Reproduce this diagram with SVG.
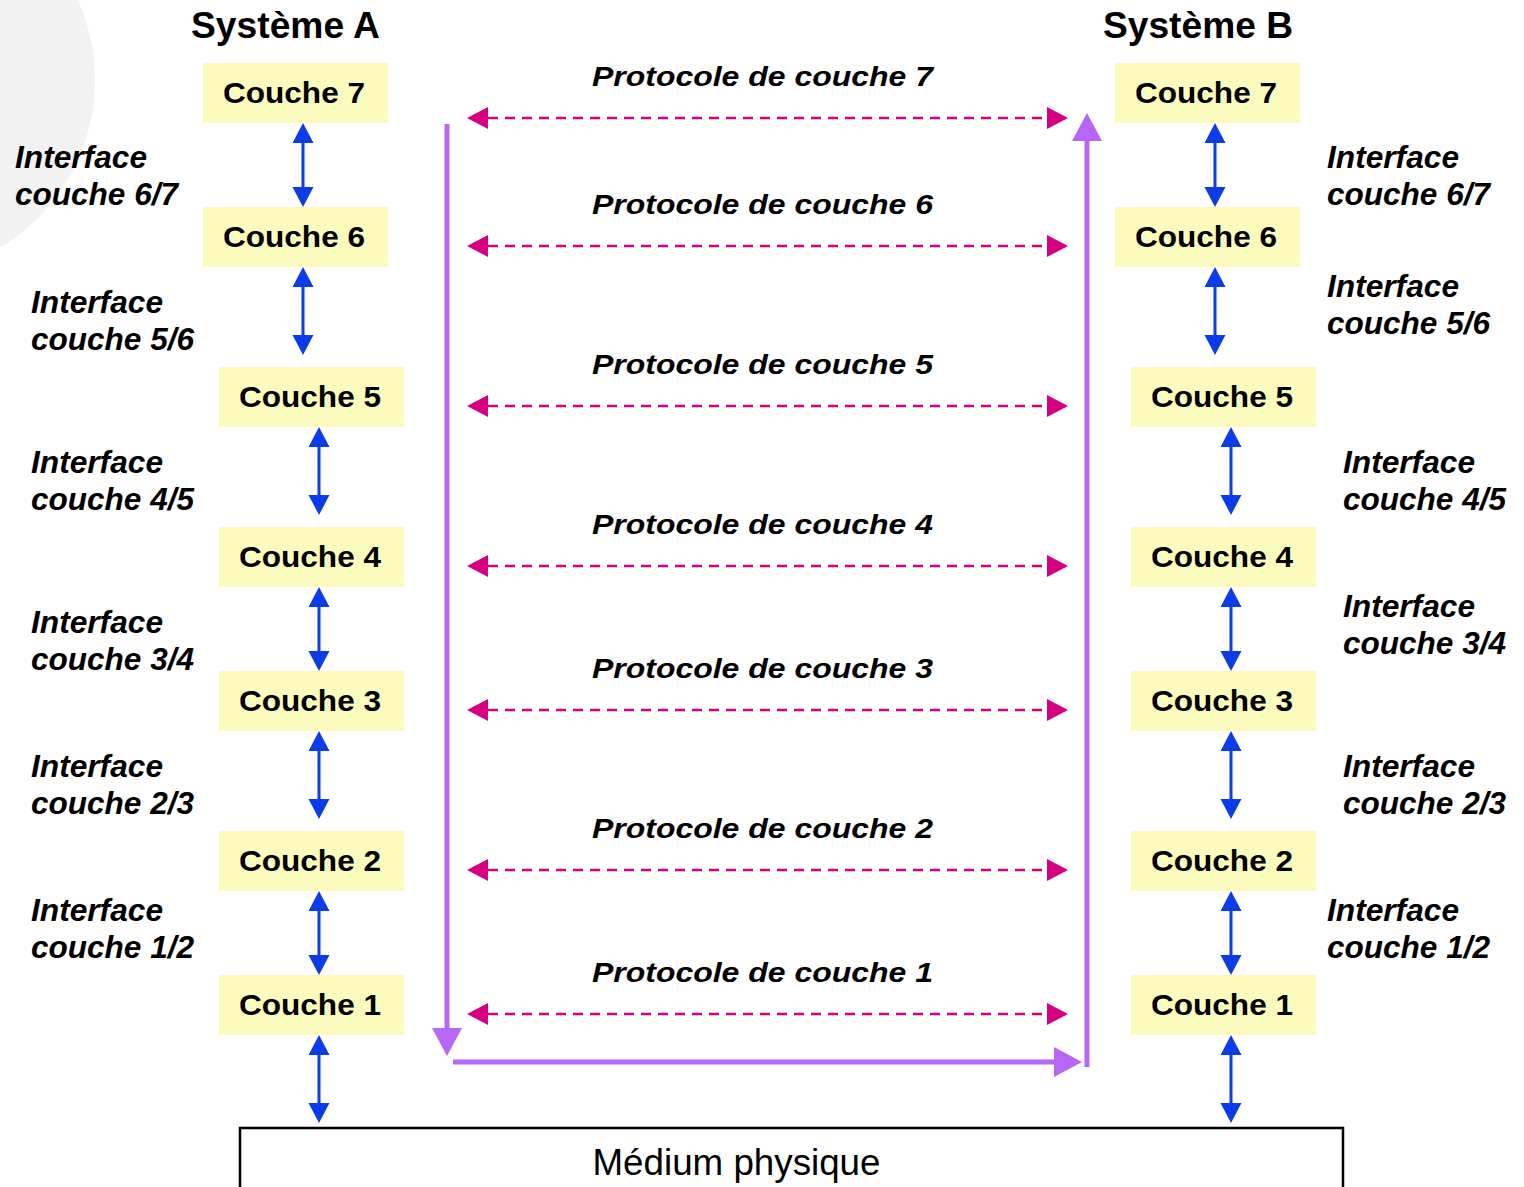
<svg xmlns="http://www.w3.org/2000/svg" width="1524" height="1187" viewBox="0 0 1524 1187">
<style>
.box{fill:#fbfbbd}
.lbl{font-family:"Liberation Sans",Arial,sans-serif;font-weight:bold;font-size:30px;fill:#000;text-anchor:middle}
.title{font-family:"Liberation Sans",Arial,sans-serif;font-weight:bold;font-size:36px;fill:#000;text-anchor:middle}
.itf{font-family:"Liberation Sans",Arial,sans-serif;font-weight:bold;font-style:italic;font-size:31px;fill:#000}
.proto{font-family:"Liberation Sans",Arial,sans-serif;font-weight:bold;font-style:italic;font-size:28px;fill:#000}
.blue{stroke:#0b3ce8;stroke-width:3;fill:none;marker-start:url(#hb);marker-end:url(#hb)}
.pink{stroke:#d6007e;stroke-width:2.5;fill:none;stroke-dasharray:10 7;marker-start:url(#hp);marker-end:url(#hp)}
.purple{stroke:#b866f5;stroke-width:5;fill:none}
</style>
<defs>
<marker id="hb" markerUnits="userSpaceOnUse" markerWidth="20" markerHeight="21" refX="0" refY="10.5" orient="auto-start-reverse" overflow="visible"><path d="M0,0 L20,10.5 L0,21 z" fill="#0b3ce8"/></marker>
<marker id="hp" markerUnits="userSpaceOnUse" markerWidth="21" markerHeight="22" refX="0" refY="11" orient="auto-start-reverse" overflow="visible"><path d="M0,0 L21,11 L0,22 z" fill="#d6007e"/></marker>
<marker id="hv" markerUnits="userSpaceOnUse" markerWidth="28" markerHeight="30" refX="0" refY="15" orient="auto" overflow="visible"><path d="M0,0 L28,15 L0,30 z" fill="#b866f5"/></marker>
</defs>
<rect width="1524" height="1187" fill="#fff"/>
<circle cx="-100" cy="80" r="195" fill="#f2f2f2"/>

<text class="title" x="285.5" y="38" textLength="189" lengthAdjust="spacingAndGlyphs">Système A</text>
<text class="title" x="1198" y="38" textLength="190" lengthAdjust="spacingAndGlyphs">Système B</text>

<g id="A7"><rect class="box" x="203" y="63" width="185" height="60"/><text class="lbl" x="294" y="103" textLength="142" lengthAdjust="spacingAndGlyphs">Couche 7</text></g>
<g id="A6"><rect class="box" x="203" y="207" width="185" height="60"/><text class="lbl" x="294" y="247" textLength="142" lengthAdjust="spacingAndGlyphs">Couche 6</text></g>
<g id="A5"><rect class="box" x="219" y="367" width="185" height="60"/><text class="lbl" x="310" y="407" textLength="142" lengthAdjust="spacingAndGlyphs">Couche 5</text></g>
<g id="A4"><rect class="box" x="219" y="527" width="185" height="60"/><text class="lbl" x="310" y="567" textLength="142" lengthAdjust="spacingAndGlyphs">Couche 4</text></g>
<g id="A3"><rect class="box" x="219" y="671" width="185" height="60"/><text class="lbl" x="310" y="711" textLength="142" lengthAdjust="spacingAndGlyphs">Couche 3</text></g>
<g id="A2"><rect class="box" x="219" y="831" width="185" height="60"/><text class="lbl" x="310" y="871" textLength="142" lengthAdjust="spacingAndGlyphs">Couche 2</text></g>
<g id="A1"><rect class="box" x="219" y="975" width="185" height="60"/><text class="lbl" x="310" y="1015" textLength="142" lengthAdjust="spacingAndGlyphs">Couche 1</text></g>

<g id="B7"><rect class="box" x="1115" y="63" width="185" height="60"/><text class="lbl" x="1206" y="103" textLength="142" lengthAdjust="spacingAndGlyphs">Couche 7</text></g>
<g id="B6"><rect class="box" x="1115" y="207" width="185" height="60"/><text class="lbl" x="1206" y="247" textLength="142" lengthAdjust="spacingAndGlyphs">Couche 6</text></g>
<g id="B5"><rect class="box" x="1131" y="367" width="185" height="60"/><text class="lbl" x="1222" y="407" textLength="142" lengthAdjust="spacingAndGlyphs">Couche 5</text></g>
<g id="B4"><rect class="box" x="1131" y="527" width="185" height="60"/><text class="lbl" x="1222" y="567" textLength="142" lengthAdjust="spacingAndGlyphs">Couche 4</text></g>
<g id="B3"><rect class="box" x="1131" y="671" width="185" height="60"/><text class="lbl" x="1222" y="711" textLength="142" lengthAdjust="spacingAndGlyphs">Couche 3</text></g>
<g id="B2"><rect class="box" x="1131" y="831" width="185" height="60"/><text class="lbl" x="1222" y="871" textLength="142" lengthAdjust="spacingAndGlyphs">Couche 2</text></g>
<g id="B1"><rect class="box" x="1131" y="975" width="185" height="60"/><text class="lbl" x="1222" y="1015" textLength="142" lengthAdjust="spacingAndGlyphs">Couche 1</text></g>

<g id="medium"><rect x="240" y="1128" width="1103" height="80" fill="#fff" stroke="#000" stroke-width="2.5"/><text x="736.5" y="1175" font-family="Liberation Sans, Arial, sans-serif" font-size="36" text-anchor="middle" textLength="288" lengthAdjust="spacingAndGlyphs">Médium physique</text></g>

<g id="interfaces">
<text class="itf" x="15" y="168" textLength="132" lengthAdjust="spacingAndGlyphs">Interface</text><text class="itf" x="15" y="205" textLength="163" lengthAdjust="spacingAndGlyphs">couche 6/7</text>
<text class="itf" x="31" y="313" textLength="132" lengthAdjust="spacingAndGlyphs">Interface</text><text class="itf" x="31" y="350" textLength="163" lengthAdjust="spacingAndGlyphs">couche 5/6</text>
<text class="itf" x="31" y="473" textLength="132" lengthAdjust="spacingAndGlyphs">Interface</text><text class="itf" x="31" y="510" textLength="163" lengthAdjust="spacingAndGlyphs">couche 4/5</text>
<text class="itf" x="31" y="633" textLength="132" lengthAdjust="spacingAndGlyphs">Interface</text><text class="itf" x="31" y="670" textLength="163" lengthAdjust="spacingAndGlyphs">couche 3/4</text>
<text class="itf" x="31" y="777" textLength="132" lengthAdjust="spacingAndGlyphs">Interface</text><text class="itf" x="31" y="814" textLength="163" lengthAdjust="spacingAndGlyphs">couche 2/3</text>
<text class="itf" x="31" y="921" textLength="132" lengthAdjust="spacingAndGlyphs">Interface</text><text class="itf" x="31" y="958" textLength="163" lengthAdjust="spacingAndGlyphs">couche 1/2</text>
<text class="itf" x="1327" y="168" textLength="132" lengthAdjust="spacingAndGlyphs">Interface</text><text class="itf" x="1327" y="205" textLength="163" lengthAdjust="spacingAndGlyphs">couche 6/7</text>
<text class="itf" x="1327" y="297" textLength="132" lengthAdjust="spacingAndGlyphs">Interface</text><text class="itf" x="1327" y="334" textLength="163" lengthAdjust="spacingAndGlyphs">couche 5/6</text>
<text class="itf" x="1343" y="473" textLength="132" lengthAdjust="spacingAndGlyphs">Interface</text><text class="itf" x="1343" y="510" textLength="163" lengthAdjust="spacingAndGlyphs">couche 4/5</text>
<text class="itf" x="1343" y="617" textLength="132" lengthAdjust="spacingAndGlyphs">Interface</text><text class="itf" x="1343" y="654" textLength="163" lengthAdjust="spacingAndGlyphs">couche 3/4</text>
<text class="itf" x="1343" y="777" textLength="132" lengthAdjust="spacingAndGlyphs">Interface</text><text class="itf" x="1343" y="814" textLength="163" lengthAdjust="spacingAndGlyphs">couche 2/3</text>
<text class="itf" x="1327" y="921" textLength="132" lengthAdjust="spacingAndGlyphs">Interface</text><text class="itf" x="1327" y="958" textLength="163" lengthAdjust="spacingAndGlyphs">couche 1/2</text>
</g>

<g id="protocols">
<text class="proto" x="592" y="86" textLength="341" lengthAdjust="spacingAndGlyphs">Protocole de couche 7</text>
<text class="proto" x="592" y="214" textLength="341" lengthAdjust="spacingAndGlyphs">Protocole de couche 6</text>
<text class="proto" x="592" y="374" textLength="341" lengthAdjust="spacingAndGlyphs">Protocole de couche 5</text>
<text class="proto" x="592" y="534" textLength="341" lengthAdjust="spacingAndGlyphs">Protocole de couche 4</text>
<text class="proto" x="592" y="678" textLength="341" lengthAdjust="spacingAndGlyphs">Protocole de couche 3</text>
<text class="proto" x="592" y="838" textLength="341" lengthAdjust="spacingAndGlyphs">Protocole de couche 2</text>
<text class="proto" x="592" y="982" textLength="341" lengthAdjust="spacingAndGlyphs">Protocole de couche 1</text>
</g>

<g id="connectors">
<line class="blue" x1="303" y1="143" x2="303" y2="187"/>
<line class="blue" x1="303" y1="287" x2="303" y2="335"/>
<line class="blue" x1="319" y1="447" x2="319" y2="495"/>
<line class="blue" x1="319" y1="607" x2="319" y2="651"/>
<line class="blue" x1="319" y1="751" x2="319" y2="799"/>
<line class="blue" x1="319" y1="911" x2="319" y2="955"/>
<line class="blue" x1="319" y1="1055" x2="319" y2="1103"/>
<line class="blue" x1="1215" y1="143" x2="1215" y2="187"/>
<line class="blue" x1="1215" y1="287" x2="1215" y2="335"/>
<line class="blue" x1="1231" y1="447" x2="1231" y2="495"/>
<line class="blue" x1="1231" y1="607" x2="1231" y2="651"/>
<line class="blue" x1="1231" y1="751" x2="1231" y2="799"/>
<line class="blue" x1="1231" y1="911" x2="1231" y2="955"/>
<line class="blue" x1="1231" y1="1055" x2="1231" y2="1103"/>

<line class="pink" x1="488" y1="118" x2="1047" y2="118"/>
<line class="pink" x1="488" y1="246" x2="1047" y2="246"/>
<line class="pink" x1="488" y1="406" x2="1047" y2="406"/>
<line class="pink" x1="488" y1="566" x2="1047" y2="566"/>
<line class="pink" x1="488" y1="710" x2="1047" y2="710"/>
<line class="pink" x1="488" y1="870" x2="1047" y2="870"/>
<line class="pink" x1="488" y1="1014" x2="1047" y2="1014"/>

<line class="purple" x1="447" y1="124" x2="447" y2="1028" marker-end="url(#hv)"/>
<line class="purple" x1="453" y1="1062" x2="1054" y2="1062" marker-end="url(#hv)"/>
<line class="purple" x1="1087" y1="1067" x2="1087" y2="141" marker-end="url(#hv)"/>
</g>
</svg>
